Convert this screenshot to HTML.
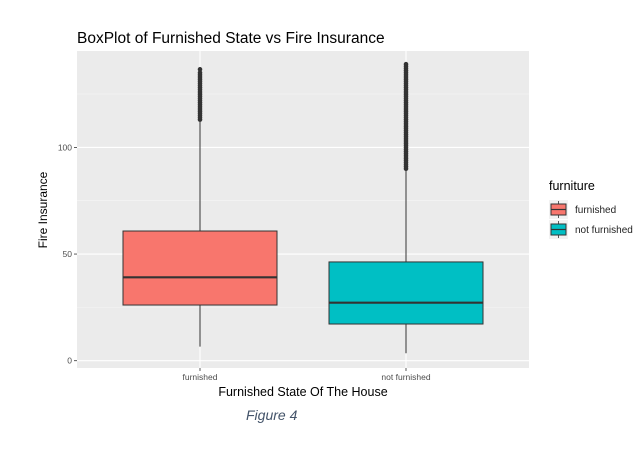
<!DOCTYPE html>
<html><head><meta charset="utf-8"><style>
body{margin:0;background:#fff;width:642px;height:445px;overflow:hidden;font-family:"Liberation Sans",sans-serif}
</style></head><body>
<svg width="642" height="445" xmlns="http://www.w3.org/2000/svg" id="chart">
<text x="77" y="43" font-size="15.5" fill="#000">BoxPlot of Furnished State vs Fire Insurance</text>
<rect x="77" y="51" width="452" height="317" fill="#ebebeb"/>
<g id="grid"></g>
<g id="boxes"></g>
<g id="axes"></g>
<text x="47" y="210" font-size="12" text-anchor="middle" transform="rotate(-90 47 210)">Fire Insurance</text>
<text x="303" y="396" font-size="12.5" text-anchor="middle">Furnished State Of The House</text>
<g>
<text x="549" y="190" font-size="12.5">furniture</text>
<g>
<rect x="549" y="200" width="19" height="19" fill="#f2f2f2"/>
<line x1="558.5" y1="201" x2="558.5" y2="218" stroke="#333" stroke-width="0.8"/>
<rect x="551" y="204" width="15" height="11" fill="#f8766d" stroke="#333"/>
<line x1="551" y1="209.5" x2="566" y2="209.5" stroke="#333" stroke-width="1.2"/>
<text x="575" y="213" font-size="10" fill="#222">furnished</text></g>
<g>
<rect x="549" y="220" width="19" height="19" fill="#f2f2f2"/>
<line x1="558.5" y1="221" x2="558.5" y2="238" stroke="#333" stroke-width="0.8"/>
<rect x="551" y="224" width="15" height="11" fill="#00bfc4" stroke="#333"/>
<line x1="551" y1="229.5" x2="566" y2="229.5" stroke="#333" stroke-width="1.2"/>
<text x="575" y="233" font-size="10" fill="#222">not furnished</text></g>
</g>
<text x="246" y="420" font-size="14" font-style="italic" fill="#44546a">Figure 4</text>
</svg>
<script>
const categories=["furnished","not furnished"];
const colors=["#f8766d","#00bfc4"];
const lowerWhisker=[6.6,3.5];
const q1=[26.1,17.2];
const median=[39.1,27.2];
const q3=[60.8,46.3];
const upperWhisker=[112,89];
const outliersFurnished=[113,114,115,116,117,118,119,120,121,122,123,124,125,126,127,128,129,130,131,132,133,134,135,136.6];
const outliersNotFurnished=[90,91,92,93,94,95,96,97,98,99,100,101,102,103,104,105,106,107,108,109,110,111,112,113,114,115,116,117,118,119,120,121,122,123,124,125,126,127,128,129,130,131,132,133,134,135,136,137,138,139];
const yTicks=[0,50,100];
const yMinor=[25,75,125];
const NS="http://www.w3.org/2000/svg";
const y=v=>360.7-v*2.133;
const x=i=>200+i*206;
const half=77;
function mk(tag,attrs,parent){const e=document.createElementNS(NS,tag);for(const k in attrs)e.setAttribute(k,attrs[k]);parent.appendChild(e);return e;}
const grid=document.getElementById('grid'),boxes=document.getElementById('boxes'),axes=document.getElementById('axes');
yMinor.forEach(v=>{const l=mk('line',{x1:77,x2:529,y1:y(v),y2:y(v),stroke:'#f5f5f5','stroke-width':0.6},grid);

});
yTicks.forEach(v=>{const l=mk('line',{x1:77,x2:529,y1:y(v),y2:y(v),stroke:'#fff','stroke-width':1.1},grid);


const t=mk('text',{x:72,y:y(v)+3,'font-size':8.5,fill:'#4d4d4d','text-anchor':'end'},axes);t.textContent=v;


mk('line',{x1:74,x2:77,y1:y(v),y2:y(v),stroke:'#333','stroke-width':0.8},axes);});
categories.forEach((c,i)=>{const l=mk('line',{x1:x(i),x2:x(i),y1:51,y2:368,stroke:'#fff','stroke-width':1.1},grid);


mk('line',{x1:x(i),x2:x(i),y1:368,y2:371,stroke:'#333','stroke-width':0.8},axes);
const t=mk('text',{x:x(i),y:380,'font-size':8.5,fill:'#4d4d4d','text-anchor':'middle'},axes);t.textContent=c;


const g=mk('g',{},boxes);


mk('line',{x1:x(i),x2:x(i),y1:y(lowerWhisker[i]),y2:y(q1[i]),stroke:'#333','stroke-width':1},g);
mk('line',{x1:x(i),x2:x(i),y1:y(q3[i]),y2:y(upperWhisker[i]),stroke:'#333','stroke-width':1},g);
mk('rect',{x:x(i)-half,y:y(q3[i]),width:half*2,height:y(q1[i])-y(q3[i]),fill:colors[i],stroke:'#333','stroke-width':1},g);
mk('line',{x1:x(i)-half,x2:x(i)+half,y1:y(median[i]),y2:y(median[i]),stroke:'#333','stroke-width':2.2},g);
const outs=i===0?outliersFurnished:outliersNotFurnished;
outs.forEach(v=>{const p=mk('circle',{cx:x(i),cy:y(v),r:2.3,fill:'#333'},g);

});
});
</script>
</body></html>
